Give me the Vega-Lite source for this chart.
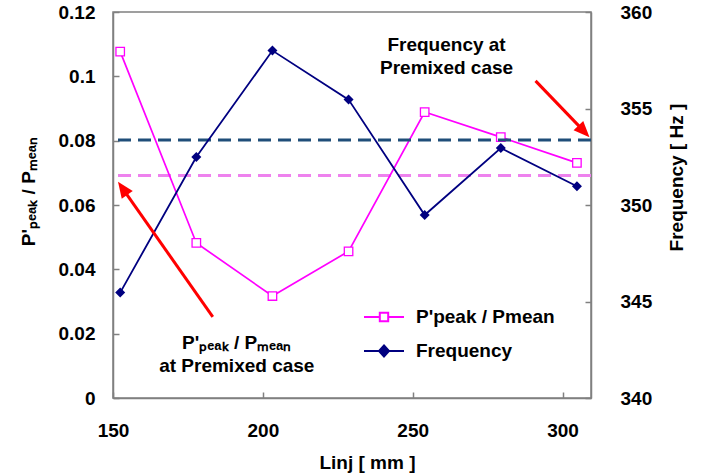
{
  "$schema": "https://vega.github.io/schema/vega-lite/v6.json",
  "width": 478,
  "height": 386,
  "autosize": {"type": "none"},
  "padding": {"left": 113, "top": 12, "right": 115, "bottom": 78},
  "config": {
    "font": "Liberation Sans",
    "view": {"stroke": "#808080", "strokeWidth": 1.5},
    "axis": {
      "grid": false,
      "labelFlush": false,
      "labelOverlap": false,
      "domainColor": "#808080",
      "domainWidth": 1.5,
      "tickColor": "#808080",
      "tickWidth": 1.5,
      "tickSize": -6,
      "labelFont": "Liberation Sans",
      "labelFontSize": 19,
      "labelFontWeight": "bold",
      "labelColor": "#000000",
      "titleFont": "Liberation Sans",
      "titleFontSize": 19,
      "titleFontWeight": "bold",
      "titleColor": "#000000"
    }
  },
  "datasets": {
    "ppeak": [
      {"x": 152.4, "series": "P'peak / Pmean", "value": 0.1077},
      {"x": 177.8, "series": "P'peak / Pmean", "value": 0.0482},
      {"x": 203.2, "series": "P'peak / Pmean", "value": 0.0317},
      {"x": 228.6, "series": "P'peak / Pmean", "value": 0.0456},
      {"x": 254.0, "series": "P'peak / Pmean", "value": 0.0889},
      {"x": 279.4, "series": "P'peak / Pmean", "value": 0.0811},
      {"x": 304.8, "series": "P'peak / Pmean", "value": 0.0731}
    ],
    "frequency": [
      {"x": 152.4, "series": "Frequency", "value": 345.46},
      {"x": 177.8, "series": "Frequency", "value": 352.49},
      {"x": 203.2, "series": "Frequency", "value": 358.0},
      {"x": 228.6, "series": "Frequency", "value": 355.46},
      {"x": 254.0, "series": "Frequency", "value": 349.48},
      {"x": 279.4, "series": "Frequency", "value": 352.95},
      {"x": 304.8, "series": "Frequency", "value": 350.97}
    ],
    "premixed": [
      {"quantity": "ppeak", "value": 0.0692},
      {"quantity": "frequency", "value": 353.37}
    ],
    "notes": [
      {"x": 261.3, "y": 0.1097, "label": "Frequency at\nPremixed case"},
      {"x": 191.3, "y": 0.0171, "label": "P'ₚₑₐₖ / Pₘₑₐₙ\nat Premixed case"}
    ],
    "arrows": [
      {"name": "a1", "tail_x": 183.3, "tail_y": 0.0252, "base_x": 154.17, "base_y": 0.06385, "tip_x": 151.67, "tip_y": 0.0672},
      {"name": "a2", "tail_x": 291.0, "tail_y": 0.0986, "base_x": 306.0, "base_y": 0.08406, "tip_x": 309.0, "tip_y": 0.0811}
    ]
  },
  "layer": [
    {
      "layer": [
        {
          "data": {"name": "premixed"},
          "transform": [{"filter": "datum.quantity === 'ppeak'"}],
          "mark": {"type": "rule", "color": "#EE82EE", "strokeWidth": 3, "strokeDash": [13, 7]},
          "encoding": {
            "y": {"field": "value", "type": "quantitative", "scale": {"domain": [0, 0.12], "nice": false}, "title": "P'ₚₑₐₖ / Pₘₑₐₙ",
              "axis": {"values": [0, 0.02, 0.04, 0.06, 0.08, 0.1, 0.12], "format": ".2~f", "labelPadding": 24, "titlePadding": 20, "titleY": 179}}
          }
        },
        {
          "data": {"name": "ppeak"},
          "mark": {"type": "line", "strokeWidth": 1.7},
          "encoding": {
            "x": {"field": "x", "type": "quantitative", "scale": {"domain": [150, 309.5], "nice": false, "zero": false}, "title": "Linj [ mm ]",
              "axis": {"values": [150, 200, 250, 300], "labelPadding": 29, "titlePadding": 13, "titleX": 254}},
            "y": {"field": "value", "type": "quantitative", "scale": {"domain": [0, 0.12], "nice": false}, "title": "P'ₚₑₐₖ / Pₘₑₐₙ",
              "axis": {"values": [0, 0.02, 0.04, 0.06, 0.08, 0.1, 0.12], "format": ".2~f", "labelPadding": 24, "titlePadding": 20, "titleY": 179}},
            "color": {"field": "series", "type": "nominal",
              "scale": {"domain": ["P'peak / Pmean", "Frequency"], "range": ["#FF00FF", "#000080"]},
              "legend": {
                "orient": "none", "legendX": 260, "legendY": 294, "title": null, "padding": 0,
                "symbolSize": 400, "symbolStrokeWidth": 2, "labelOffset": 21, "rowPadding": 13,
                "labelFont": "Liberation Sans", "labelFontSize": 19, "labelFontWeight": "bold", "labelColor": "#000000",
                "encode": {"symbols": {"update": {
                  "shape": {"signal": "datum.value === 'Frequency' ? 'M-2,0H2M0,-0.55L0.5,0L0,0.55L-0.5,0Z' : 'M-2,0H-0.42M0.42,0H2M-0.42,-0.42H0.42V0.42H-0.42Z'"},
                  "fill": {"signal": "datum.value === 'Frequency' ? '#000080' : '#ffffff'"},
                  "fillOpacity": {"value": 1}
                }}}
              }}
          }
        },
        {
          "data": {"name": "ppeak"},
          "mark": {"type": "point", "shape": "square", "size": 72, "filled": true, "fill": "#ffffff", "stroke": "#FF00FF", "strokeWidth": 1.3, "opacity": 1},
          "encoding": {
            "x": {"field": "x", "type": "quantitative", "title": "Linj [ mm ]",
              "axis": {"values": [150, 200, 250, 300], "labelPadding": 29, "titlePadding": 13, "titleX": 254}},
            "y": {"field": "value", "type": "quantitative", "title": "P'ₚₑₐₖ / Pₘₑₐₙ",
              "axis": {"values": [0, 0.02, 0.04, 0.06, 0.08, 0.1, 0.12], "format": ".2~f", "labelPadding": 24, "titlePadding": 20, "titleY": 179}}
          }
        }
      ]
    },
    {
      "layer": [
        {
          "data": {"name": "premixed"},
          "transform": [{"filter": "datum.quantity === 'frequency'"}],
          "mark": {"type": "rule", "color": "#1F4E79", "strokeWidth": 3, "strokeDash": [13, 7]},
          "encoding": {
            "y": {"field": "value", "type": "quantitative", "scale": {"domain": [340, 360], "nice": false, "zero": false}, "title": "Frequency [ Hz ]",
              "axis": {"orient": "right", "values": [340, 345, 350, 355, 360], "labelPadding": 35, "titlePadding": 16, "titleAngle": -90, "titleBaseline": "top", "titleY": 165}}
          }
        },
        {
          "data": {"name": "frequency"},
          "mark": {"type": "line", "strokeWidth": 1.8},
          "encoding": {
            "x": {"field": "x", "type": "quantitative", "title": "Linj [ mm ]",
              "axis": {"values": [150, 200, 250, 300], "labelPadding": 29, "titlePadding": 13, "titleX": 254}},
            "y": {"field": "value", "type": "quantitative", "scale": {"domain": [340, 360], "nice": false, "zero": false}, "title": "Frequency [ Hz ]",
              "axis": {"orient": "right", "values": [340, 345, 350, 355, 360], "labelPadding": 35, "titlePadding": 16, "titleAngle": -90, "titleBaseline": "top", "titleY": 165}},
            "color": {"field": "series", "type": "nominal"}
          }
        },
        {
          "data": {"name": "frequency"},
          "mark": {"type": "point", "shape": "diamond", "size": 100, "filled": true, "color": "#000080", "opacity": 1},
          "encoding": {
            "x": {"field": "x", "type": "quantitative", "title": "Linj [ mm ]",
              "axis": {"values": [150, 200, 250, 300], "labelPadding": 29, "titlePadding": 13, "titleX": 254}},
            "y": {"field": "value", "type": "quantitative", "title": "Frequency [ Hz ]",
              "axis": {"orient": "right", "values": [340, 345, 350, 355, 360], "labelPadding": 35, "titlePadding": 16, "titleAngle": -90, "titleBaseline": "top", "titleY": 165}}
          }
        }
      ]
    },
    {
      "layer": [
        {
          "data": {"name": "notes"},
          "mark": {"type": "text", "lineBreak": "\n", "font": "Liberation Sans", "fontSize": 19, "fontWeight": "bold", "color": "#000000", "align": "center", "baseline": "middle", "lineHeight": 23},
          "encoding": {
            "x": {"field": "x", "type": "quantitative", "title": "Linj [ mm ]"},
            "y": {"field": "y", "type": "quantitative", "scale": {"domain": [0, 0.12], "nice": false}, "axis": null},
            "text": {"field": "label"}
          }
        },
        {
          "data": {"name": "arrows"},
          "mark": {"type": "rule", "color": "#FF0000", "strokeWidth": 3},
          "encoding": {
            "x": {"field": "tail_x", "type": "quantitative", "title": "Linj [ mm ]"},
            "y": {"field": "tail_y", "type": "quantitative", "axis": null},
            "x2": {"field": "base_x"},
            "y2": {"field": "base_y"}
          }
        },
        {
          "data": {"name": "arrows"},
          "transform": [{"filter": "datum.name === 'a1'"}],
          "mark": {"type": "point", "shape": "M0,0L-0.42,1L0.42,1Z", "size": 1024, "filled": true, "color": "#FF0000", "opacity": 1, "angle": 324.7},
          "encoding": {
            "x": {"field": "tip_x", "type": "quantitative", "title": "Linj [ mm ]"},
            "y": {"field": "tip_y", "type": "quantitative", "axis": null}
          }
        },
        {
          "data": {"name": "arrows"},
          "transform": [{"filter": "datum.name === 'a2'"}],
          "mark": {"type": "point", "shape": "M0,0L-0.42,1L0.42,1Z", "size": 1024, "filled": true, "color": "#FF0000", "opacity": 1, "angle": 136},
          "encoding": {
            "x": {"field": "tip_x", "type": "quantitative", "title": "Linj [ mm ]"},
            "y": {"field": "tip_y", "type": "quantitative", "axis": null}
          }
        }
      ]
    }
  ],
  "resolve": {"scale": {"y": "independent"}}
}
